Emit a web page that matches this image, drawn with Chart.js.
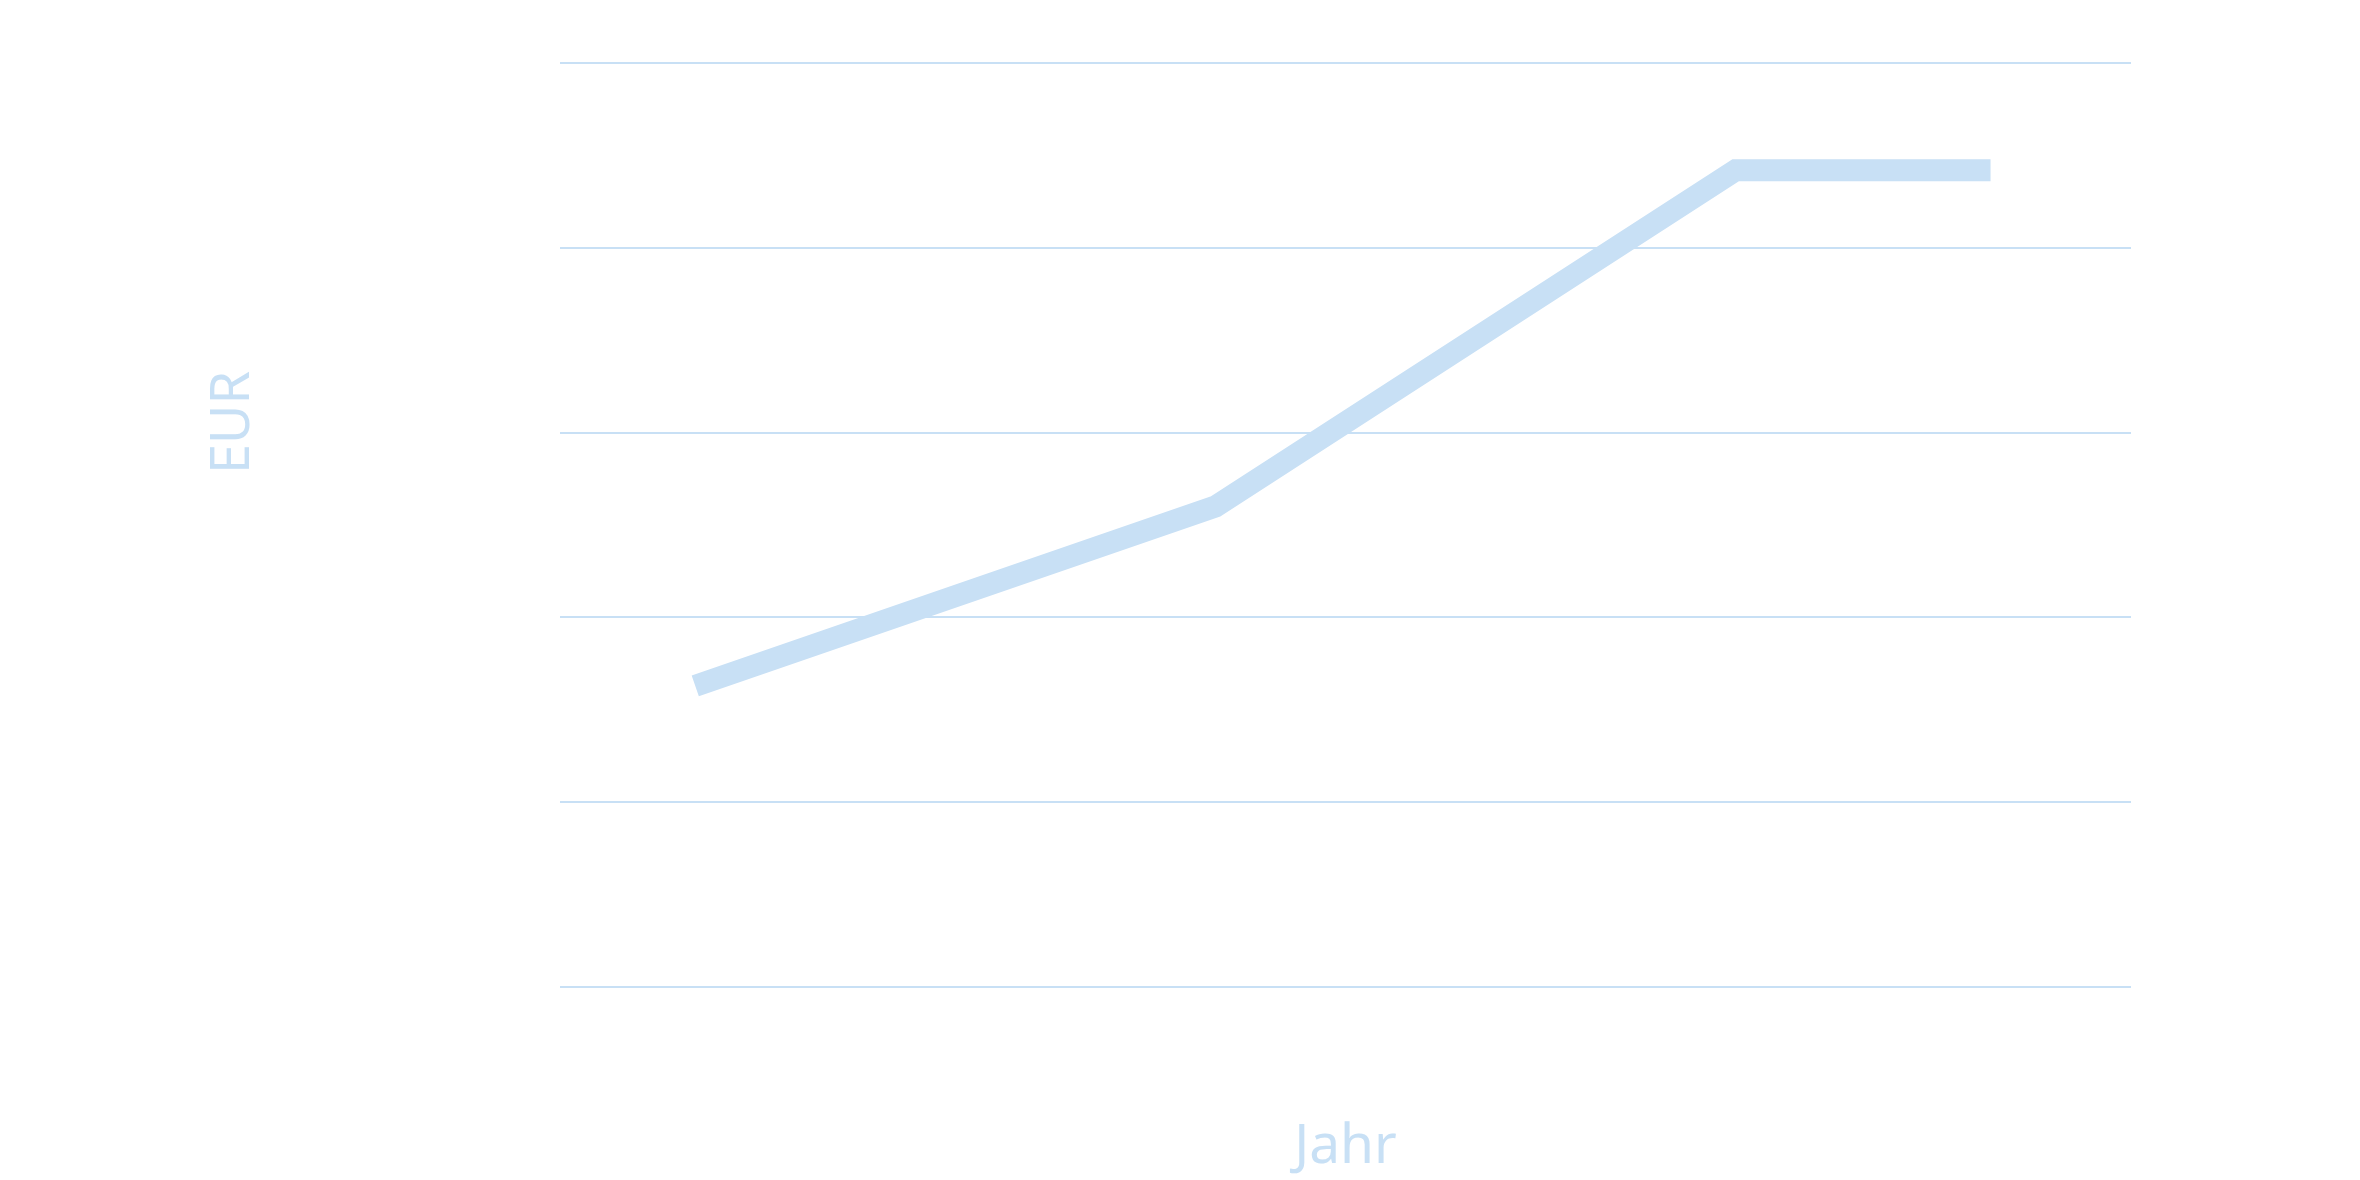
<!DOCTYPE html>
<html>
<head>
<meta charset="utf-8">
<script src="https://cdn.jsdelivr.net/npm/chart.js@4"></script>
<style>
  html, body { margin: 0; padding: 0; background: #ffffff; }
  #wrap { width: 2360px; height: 1180px; }
</style>
</head>
<body>
<div id="wrap"><canvas id="c" width="2360" height="1180"></canvas></div>
<script>
// ---- data ----
const years = [2021, 2022, 2023, 2023.49];
const eurValues = [16.3, 26.0, 44.2, 44.2];
const yTicks = [0, 10, 20, 30, 40, 50];
const xTitle = 'Jahr';
const yTitle = 'EUR';

const COLOR = '#c8e0f5';
const FONT = '"Noto Sans", "Open Sans", sans-serif';

const yTitlePlugin = {
  id: 'yTitle',
  afterDraw(chart) {
    const { ctx, chartArea } = chart;
    ctx.save();
    ctx.font = '54px ' + FONT;
    ctx.fillStyle = COLOR;
    ctx.textAlign = 'center';
    ctx.textBaseline = 'alphabetic';
    ctx.translate(chartArea.left - 311, chartArea.top + (chartArea.bottom - chartArea.top) * 0.389);
    ctx.rotate(-Math.PI / 2);
    ctx.fillText(yTitle, 0, 0);
    ctx.restore();
  }
};

new Chart(document.getElementById('c'), {
  type: 'line',
  data: {
    datasets: [{
      data: years.map((x, i) => ({ x, y: eurValues[i] })),
      borderColor: COLOR,
      backgroundColor: COLOR,
      borderWidth: 22,
      borderCapStyle: 'butt',
      borderJoinStyle: 'miter',
      pointRadius: 0,
      pointHoverRadius: 0,
      tension: 0,
      fill: false
    }]
  },
  options: {
    responsive: false,
    animation: false,
    devicePixelRatio: 1,
    layout: { padding: { top: 63, right: 229, left: 560, bottom: 0 } },
    plugins: { legend: { display: false }, tooltip: { enabled: false } },
    scales: {
      x: {
        type: 'linear',
        min: 2020.74,
        max: 2023.76,
        grid: { display: false },
        border: { display: false },
        ticks: { display: false },
        title: {
          display: true,
          text: xTitle,
          color: COLOR,
          font: { family: FONT, size: 55 },
          padding: { top: 0, bottom: 0 }
        },
        afterFit(scale) { scale.height = 193; }
      },
      y: {
        min: yTicks[0],
        max: yTicks[yTicks.length - 1],
        afterBuildTicks(scale) { scale.ticks = yTicks.map(v => ({ value: v })); },
        grid: { color: COLOR, lineWidth: 2, drawTicks: false, tickLength: 0 },
        border: { display: false },
        ticks: { display: false },
        title: { display: false }
      }
    }
  },
  plugins: [yTitlePlugin]
});
</script>
</body>
</html>
